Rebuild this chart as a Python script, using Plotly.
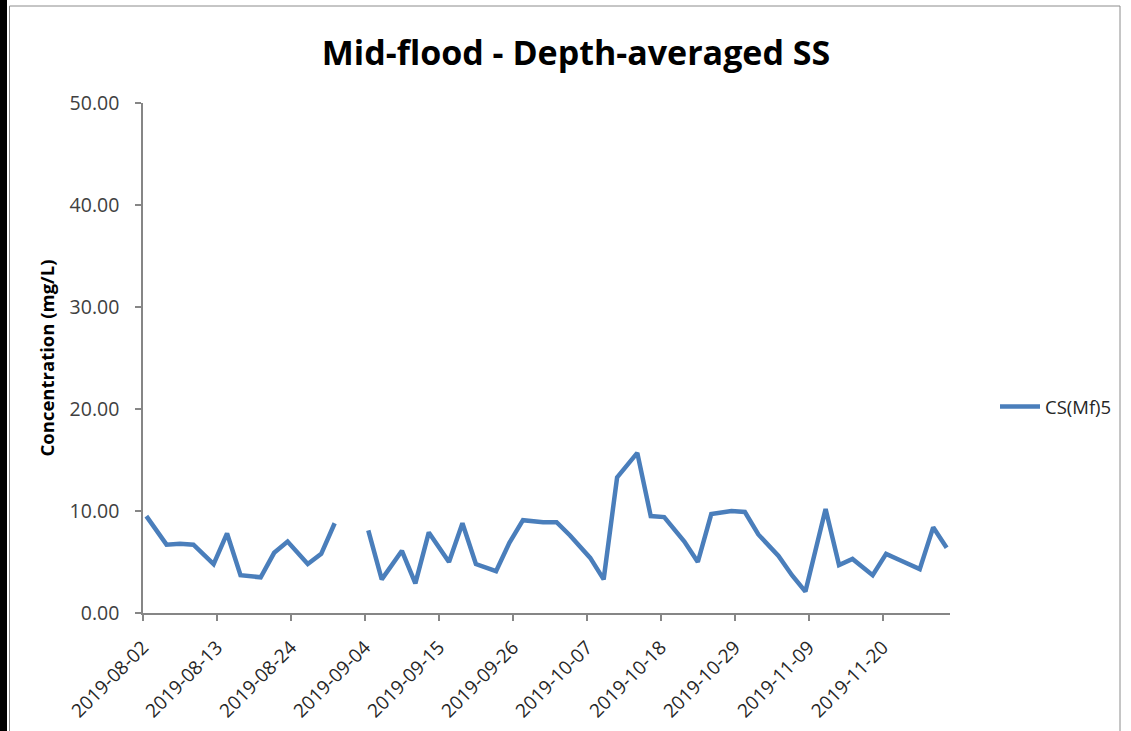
import plotly.graph_objects as go

dates = ["2019-08-02", "2019-08-05", "2019-08-07", "2019-08-09", "2019-08-12", "2019-08-14",
         "2019-08-16", "2019-08-19", "2019-08-21", "2019-08-23", "2019-08-26", "2019-08-28",
         "2019-08-30", "2019-09-02", "2019-09-04", "2019-09-06", "2019-09-09", "2019-09-11",
         "2019-09-13", "2019-09-16", "2019-09-18", "2019-09-20", "2019-09-23", "2019-09-25",
         "2019-09-27", "2019-09-30", "2019-10-02", "2019-10-04", "2019-10-07", "2019-10-09",
         "2019-10-11", "2019-10-14", "2019-10-16", "2019-10-18", "2019-10-21", "2019-10-23",
         "2019-10-25", "2019-10-28", "2019-10-30", "2019-11-01", "2019-11-04", "2019-11-06",
         "2019-11-08", "2019-11-11", "2019-11-13", "2019-11-15", "2019-11-18", "2019-11-20",
         "2019-11-22", "2019-11-25", "2019-11-27", "2019-11-29"]
cs_mf5 = [9.5, 6.7, 6.8, 6.7, 4.8, 7.8,
          3.7, 3.5, 5.9, 7.0, 4.8, 5.8,
          8.8, None, 8.1, 3.3, 6.1, 2.9,
          7.9, 5.0, 8.8, 4.8, 4.1, 6.9,
          9.1, 8.9, 8.9, 7.6, 5.4, 3.3,
          13.3, 15.7, 9.5, 9.4, 7.0, 5.0,
          9.7, 10.0, 9.9, 7.7, 5.6, 3.7,
          2.1, 10.2, 4.7, 5.3, 3.7, 5.8,
          5.2, 4.3, 8.4, 6.4]

x_ticks = ["2019-08-02", "2019-08-13", "2019-08-24", "2019-09-04", "2019-09-15", "2019-09-26",
           "2019-10-07", "2019-10-18", "2019-10-29", "2019-11-09", "2019-11-20"]
y_ticks = [0, 10, 20, 30, 40, 50]

W, H = 1131, 731
L, R, T, B = 143, 950, 103, 613

fig = go.Figure()
fig.add_trace(go.Scatter(x=dates, y=cs_mf5, mode="lines", name="CS(Mf)5",
                         xperiod=86400000, xperiodalignment="middle",
                         line=dict(color="#4A7EBB", width=4.5), connectgaps=False))

font_family = "Open Sans"
axis_color = "#868686"
text_color = "#262626"


def px_x(p):
    return (p - L) / (R - L)


def px_y(p):
    return (B - p) / (B - T)


shapes = [
    dict(type="rect", xref="paper", yref="paper", x0=px_x(0), x1=px_x(7), y0=px_y(731), y1=px_y(0),
         fillcolor="black", line=dict(width=0), layer="above"),
    dict(type="line", xref="paper", yref="paper", x0=px_x(9.5), x1=px_x(9.5), y0=px_y(731), y1=px_y(6),
         line=dict(color="#8c8c8c", width=1)),
    dict(type="line", xref="paper", yref="paper", x0=px_x(9.5), x1=px_x(1120), y0=px_y(6), y1=px_y(6),
         line=dict(color="#8c8c8c", width=1)),
    dict(type="line", xref="paper", yref="paper", x0=px_x(1120), x1=px_x(1120), y0=px_y(6), y1=px_y(731),
         line=dict(color="#8c8c8c", width=1)),
]

fig.update_layout(
    width=W, height=H,
    margin=dict(l=L, r=W - R, t=T, b=H - B, autoexpand=False),
    paper_bgcolor="white", plot_bgcolor="white",
    font=dict(family=font_family, color=text_color),
    title=dict(text="<b>Mid-flood - Depth-averaged SS</b>", x=576 / W, xanchor="center",
               y=1 - 53 / H, yanchor="middle",
               font=dict(size=34, color="black", family=font_family)),
    showlegend=True,
    legend=dict(x=px_x(995), y=px_y(407), xanchor="left", yanchor="middle",
                font=dict(size=18.5, color=text_color, family=font_family),
                bgcolor="rgba(0,0,0,0)", itemwidth=40),
    shapes=shapes,
)

fig.update_xaxes(
    type="date", range=["2019-08-02", "2019-11-30"],
    tickvals=x_ticks, ticktext=x_ticks, tickangle=-45,
    showline=True, linecolor=axis_color, linewidth=1.5,
    ticks="outside", tickcolor=axis_color, ticklen=6, tickwidth=1.5,
    showgrid=False, zeroline=False, ticklabelstandoff=8,
    tickfont=dict(size=19, color=text_color, family=font_family),
)
fig.update_yaxes(
    range=[0, 50], tickvals=y_ticks, tickformat=".2f",
    showline=True, linecolor=axis_color, linewidth=1.5,
    ticks="outside", tickcolor=axis_color, ticklen=6, tickwidth=1.5,
    showgrid=False, zeroline=False, ticklabelstandoff=12,
    tickfont=dict(size=19.5, color="#404040", family=font_family),
    title=dict(text="<b>Concentration (mg/L)</b>", standoff=10,
               font=dict(size=18.5, color="black", family=font_family)),
)

fig.write_html("out.html", config={"displayModeBar": False},
               post_script="document.body.style.margin='0';document.body.style.overflow='hidden';")
